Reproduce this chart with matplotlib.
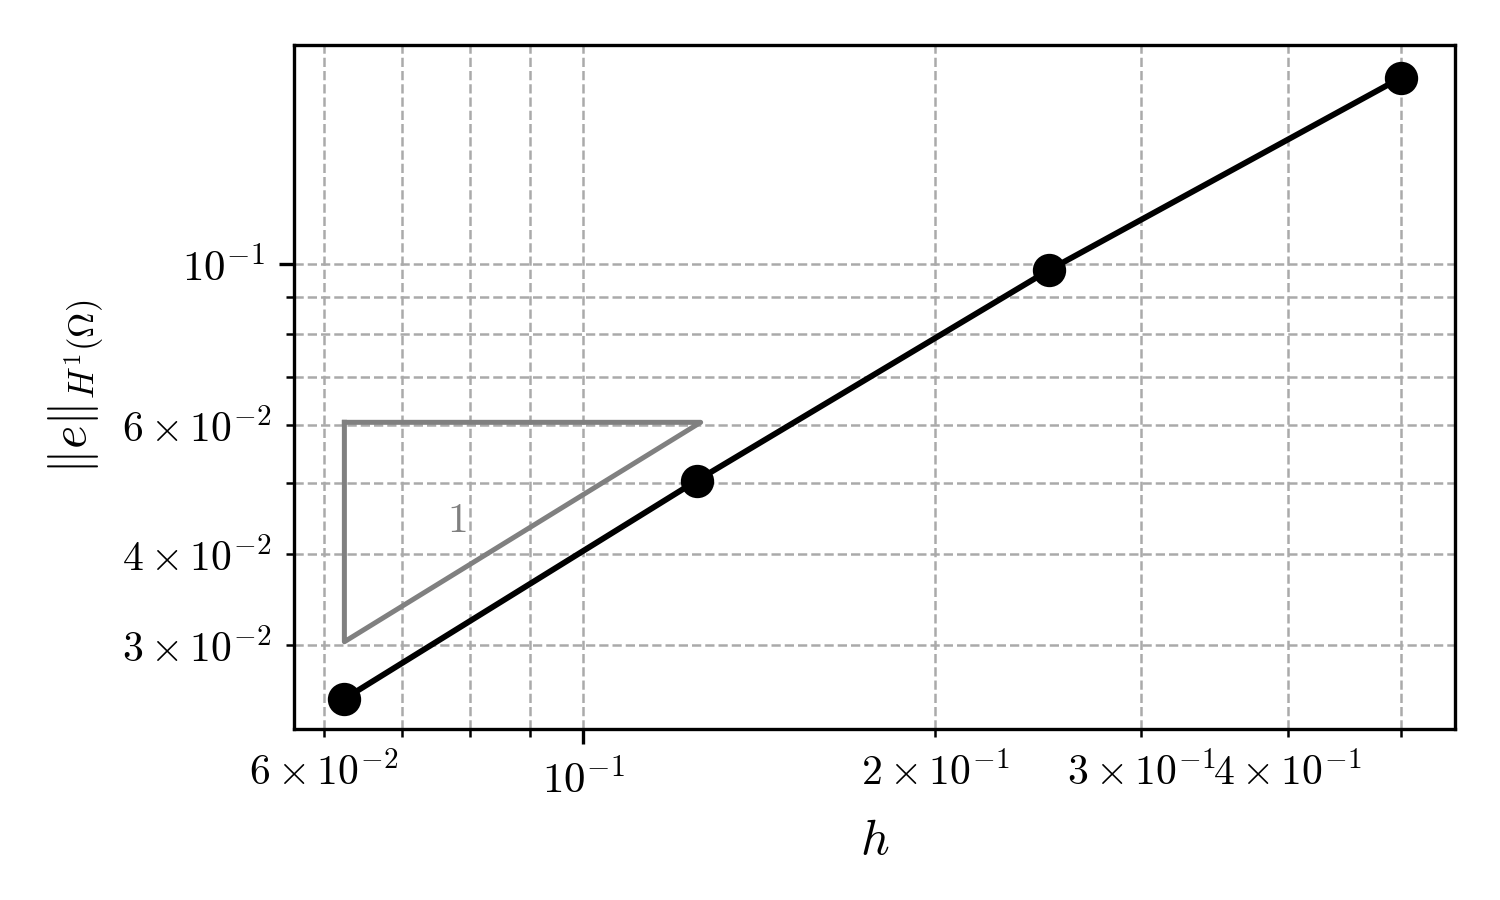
import numpy as np
import matplotlib
matplotlib.use("Agg")
import matplotlib.pyplot as plt

plt.rcParams['font.family'] = 'serif'
plt.rcParams['font.serif'] = ['cmr10']
plt.rcParams['mathtext.fontset'] = 'cm'
plt.rcParams['axes.formatter.use_mathtext'] = True

# mesh size and H1 error
h = [0.0625, 0.125, 0.25, 0.5]
err = [0.0253, 0.0504, 0.098, 0.180]

# slope triangle (order 1)
tri_h = [0.0625, 0.0625, 0.126, 0.0625]
tri_e = [0.0606, 0.0303, 0.0606, 0.0606]
tri_label = '1'
tri_label_pos = (0.0779, 0.0444)

fig, ax = plt.subplots(figsize=(5, 3), dpi=300)
ax.loglog(h, err, 'o-', color='black', lw=1.4, ms=7)
ax.plot(tri_h, tri_e, color='gray', lw=1.2)
ax.text(tri_label_pos[0], tri_label_pos[1], '$' + tri_label + '$',
        color='gray', fontsize=10, ha='center', va='center')

ax.set_xlim(0.0566, 0.556)
ax.set_ylim(0.0230, 0.1996)
ax.grid(True, which='both', ls='--', color='#aaaaaa', lw=0.6)
ax.tick_params(labelsize=10.3)
ax.set_xlabel('$h$', fontsize=12)
ax.set_ylabel(r'$\|e\|_{H^1(\Omega)}$', fontsize=12)

fig.subplots_adjust(left=0.196, right=0.97, top=0.95, bottom=0.19)
fig.savefig('out.png')
plt.close(fig)
